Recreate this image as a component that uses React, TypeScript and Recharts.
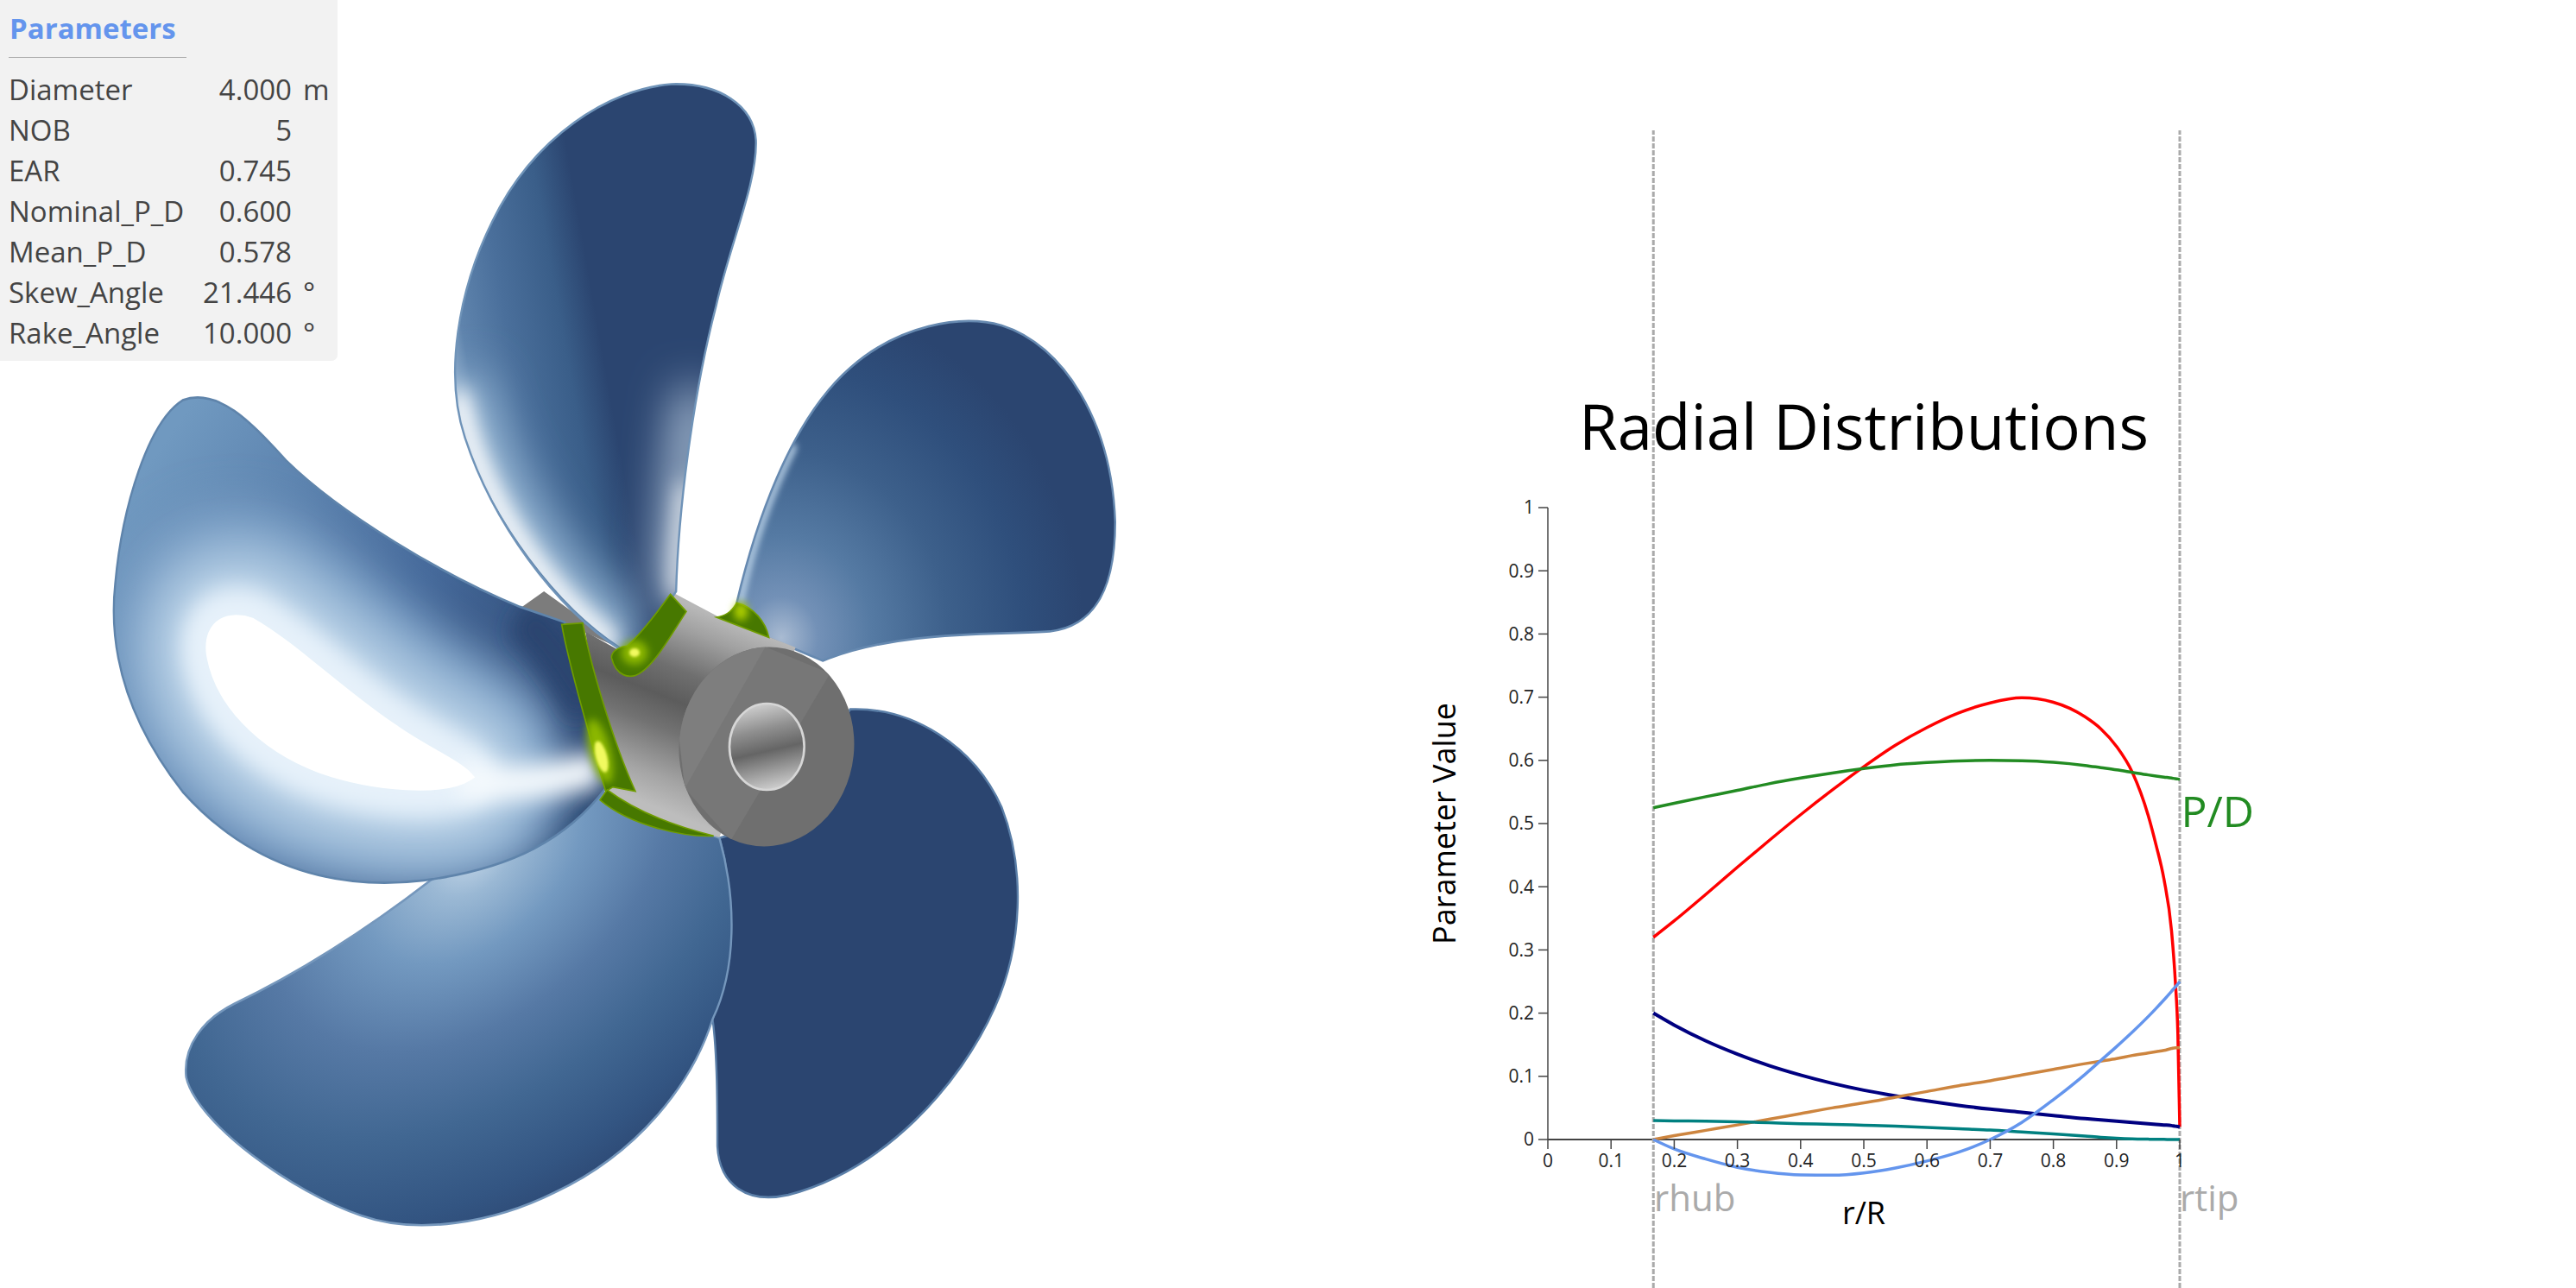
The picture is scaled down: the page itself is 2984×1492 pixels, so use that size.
import React from "react";
import {
  Line,
  LineChart,
  ReferenceDot,
  ReferenceLine,
  XAxis,
  YAxis,
} from "recharts";

// radial stations, r/R
const rR = [
  0.167, 0.2, 0.25, 0.3, 0.35, 0.4, 0.45, 0.5, 0.55, 0.6, 0.65, 0.7, 0.75, 0.8,
  0.85, 0.875, 0.9, 0.925, 0.95, 0.9625, 0.975, 0.987, 0.993, 0.997, 1,
];
const chord = [
  0.32, 0.346, 0.388, 0.431, 0.473, 0.514, 0.553, 0.59, 0.624, 0.652, 0.675,
  0.691, 0.699, 0.692, 0.669, 0.65, 0.622, 0.581, 0.513, 0.466, 0.412, 0.33,
  0.25, 0.167, 0.02,
];
const pitch = [
  0.525, 0.532, 0.5425, 0.5525, 0.563, 0.572, 0.58, 0.587, 0.593, 0.5965, 0.599,
  0.6, 0.5995, 0.597, 0.592, 0.5885, 0.585, 0.581, 0.577, 0.5752, 0.5735, 0.572,
  0.571, 0.5705, 0.57,
];
const thickness = [
  0.2, 0.181, 0.156, 0.135, 0.117, 0.102, 0.089, 0.078, 0.069, 0.061, 0.054,
  0.048, 0.043, 0.038, 0.033, 0.031, 0.029, 0.027, 0.025, 0.024, 0.023, 0.022,
  0.021, 0.0205, 0.02,
];
const rake = [
  0, 0.006, 0.0145, 0.023, 0.032, 0.041, 0.05, 0.058, 0.067, 0.076, 0.085, 0.093,
  0.102, 0.111, 0.12, 0.124, 0.128, 0.133, 0.137, 0.139, 0.141, 0.144, 0.145,
  0.145, 0.146,
];
const camber = [
  0.03, 0.0295, 0.029, 0.028, 0.0265, 0.025, 0.024, 0.0225, 0.021, 0.019, 0.017,
  0.015, 0.012, 0.009, 0.0055, 0.0035, 0.002, 0.001, 0.0005, 0.0003, 0.0002, 0,
  0, 0, 0,
];
const skew = [
  0, -0.015, -0.031, -0.044, -0.052, -0.056, -0.0565, -0.053, -0.045, -0.034,
  -0.02, 0, 0.027, 0.063, 0.103, 0.125, 0.147, 0.17, 0.1945, 0.2075, 0.221,
  0.2345, 0.2415, 0.246, 0.25,
];

const rhub = 0.167;
const rtip = 1;
const xTicks = [0, 0.1, 0.2, 0.3, 0.4, 0.5, 0.6, 0.7, 0.8, 0.9, 1];
const yTicks = [0, 0.1, 0.2, 0.3, 0.4, 0.5, 0.6, 0.7, 0.8, 0.9, 1];

const paramNames = [
  "Diameter",
  "NOB",
  "EAR",
  "Nominal_P_D",
  "Mean_P_D",
  "Skew_Angle",
  "Rake_Angle",
];
const paramValues = ["4.000", "5", "0.745", "0.600", "0.578", "21.446", "10.000"];
const paramUnits = ["m", "", "", "", "", "°", "°"];

const chartData = rR.map((x, i) => ({
  x,
  chord: chord[i],
  pitch: pitch[i],
  thickness: thickness[i],
  rake: rake[i],
  camber: camber[i],
  skew: skew[i],
}));

const FONT = "'Open Sans', sans-serif";
const PLOT_TOP = 151;
const PLOT_BOTTOM = 1492;
const Y_DOMAIN: [number, number] = [-0.235, 1.597];
const ZERO_Y =
  PLOT_TOP +
  (Y_DOMAIN[1] / (Y_DOMAIN[1] - Y_DOMAIN[0])) * (PLOT_BOTTOM - PLOT_TOP);

// x axis sits at y=0, inside the plot, because the plot runs past the axes
const XTick = (props: any) => (
  <g>
    <line
      x1={props.x}
      x2={props.x}
      y1={ZERO_Y}
      y2={ZERO_Y + 11}
      stroke="#444"
      strokeWidth={1.5}
    />
    <text
      x={props.x}
      y={ZERO_Y + 32}
      textAnchor="middle"
      fontSize={21}
      fontFamily={FONT}
      fill="#222"
    >
      {props.payload.value}
    </text>
  </g>
);

const textShape =
  (value: string, size: number, fill: string, anchor = "start", rotate = false) =>
  (p: any) =>
    (
      <text
        x={p.cx}
        y={p.cy}
        fontSize={size}
        fill={fill}
        textAnchor={anchor as any}
        fontFamily={FONT}
        transform={rotate ? `rotate(-90 ${p.cx} ${p.cy})` : undefined}
      >
        {value}
      </text>
    );

const Panel = () => (
  <div
    style={{
      position: "absolute",
      left: 0,
      top: 0,
      width: 391,
      height: 418,
      background: "#f2f2f2",
      borderRadius: "0 0 7px 0",
      fontFamily: FONT,
      color: "#444",
      fontSize: 33,
    }}
  >
    <div
      style={{
        position: "absolute",
        left: 11,
        top: 11,
        lineHeight: "44px",
        fontWeight: 700,
        color: "#6495ed",
      }}
    >
      Parameters
    </div>
    <div
      style={{
        position: "absolute",
        left: 10,
        top: 66,
        width: 206,
        height: 1,
        background: "#aaa",
      }}
    />
    {paramNames.map((name, i) => (
      <div
        key={name}
        style={{
          position: "absolute",
          left: 0,
          top: 80 + i * 47,
          width: 391,
          height: 47,
          lineHeight: "47px",
        }}
      >
        <span style={{ position: "absolute", left: 10 }}>{name}</span>
        <span style={{ position: "absolute", right: 53, textAlign: "right" }}>
          {paramValues[i]}
        </span>
        <span style={{ position: "absolute", left: 351 }}>{paramUnits[i]}</span>
      </div>
    ))}
  </div>
);

const BLADE_T =
  "M857 700 C860 600 880 450 915 330 C935 250 975 170 973 115 C970 70 920 40 850 42 C760 48 650 110 590 220 C540 310 520 420 550 500 C590 610 680 720 775 775 L800 775 Z";
const BLADE_R =
  "M945 715 C970 620 1020 480 1110 410 C1180 355 1270 340 1330 355 C1420 380 1490 480 1495 610 C1495 690 1470 745 1400 752 C1320 757 1180 750 1070 790 L990 760 Z";
const BLADE_LR =
  "M1110 853 C1200 850 1290 900 1330 980 C1365 1060 1360 1160 1320 1240 C1270 1340 1160 1450 1020 1483 C960 1495 920 1470 917 1420 C917 1370 917 1300 910 1255 C935 1190 945 1100 920 1020 L1000 1000 Z";
const BLADE_LL =
  "M920 1020 C945 1100 945 1190 910 1255 C880 1340 800 1430 680 1480 C590 1520 480 1535 400 1510 C300 1480 160 1390 145 1330 C140 1290 170 1255 215 1235 C320 1190 420 1130 500 1075 L750 960 Z";
const BLADE_L =
  "M755 955 C700 1020 620 1060 490 1075 C350 1090 230 1050 140 960 C70 880 30 790 42 690 C52 590 90 480 140 452 C190 435 240 480 290 530 C370 600 520 680 630 720 L695 740 L730 850 Z";
const CORE_L =
  "M180 780 C175 740 210 730 240 740 C300 770 380 840 450 880 C490 905 540 925 555 940 C520 960 420 955 340 930 C250 900 190 840 180 780 Z";

const blur = (id: string, dev: number) => (
  <filter
    id={id}
    filterUnits="userSpaceOnUse"
    x={-300}
    y={-300}
    width={2400}
    height={2400}
  >
    <feGaussianBlur stdDeviation={dev} />
  </filter>
);

// the propeller render is an illustration, not data, so it is plain svg
const Propeller = () => (
  <svg
    width={2984}
    height={1492}
    style={{ position: "absolute", left: 0, top: 0 }}
  >
    <defs>
      {blur("b5", 5)}
      {blur("b14", 14)}
      {blur("b30", 30)}
      <clipPath id="clipT"><path d={BLADE_T} /></clipPath>
      <clipPath id="clipR"><path d={BLADE_R} /></clipPath>
      <clipPath id="clipL"><path d={BLADE_L} /></clipPath>
      <linearGradient id="gradT" gradientUnits="userSpaceOnUse" x1="535" y1="440" x2="790" y2="390">
        <stop offset="0" stopColor="#8aa8c8" />
        <stop offset="0.1" stopColor="#5f84ad" />
        <stop offset="0.35" stopColor="#4a6f9b" />
        <stop offset="0.65" stopColor="#3a5e89" />
        <stop offset="0.85" stopColor="#2b4570" />
      </linearGradient>
      <radialGradient id="gradR" gradientUnits="userSpaceOnUse" cx="1010" cy="760" r="440">
        <stop offset="0" stopColor="#a9bbd2" />
        <stop offset="0.12" stopColor="#7391b7" />
        <stop offset="0.3" stopColor="#557aa3" />
        <stop offset="0.55" stopColor="#3d608b" />
        <stop offset="0.8" stopColor="#2f4f7c" />
        <stop offset="1" stopColor="#2b4570" />
      </radialGradient>
      <radialGradient
        id="gradLL"
        gradientUnits="userSpaceOnUse"
        cx="560"
        cy="1040"
        r="560"
        gradientTransform="rotate(-35 560 1040) translate(560 1040) scale(1.3 0.85) translate(-560 -1040)"
      >
        <stop offset="0" stopColor="#c3d6e8" />
        <stop offset="0.1" stopColor="#9ab8d4" />
        <stop offset="0.25" stopColor="#7399c0" />
        <stop offset="0.45" stopColor="#5679a5" />
        <stop offset="0.65" stopColor="#416792" />
        <stop offset="0.85" stopColor="#335582" />
        <stop offset="1" stopColor="#2b4570" />
      </radialGradient>
      <linearGradient id="gradL" gradientUnits="userSpaceOnUse" x1="150" y1="460" x2="680" y2="880">
        <stop offset="0" stopColor="#7099c0" />
        <stop offset="0.6" stopColor="#45699a" />
        <stop offset="1" stopColor="#2b4570" />
      </linearGradient>
      <linearGradient id="gradHub" gradientUnits="userSpaceOnUse" x1="715" y1="195" x2="455" y2="840">
        <stop offset="0" stopColor="#b8b8b8" />
        <stop offset="0.12" stopColor="#a0a0a0" />
        <stop offset="0.32" stopColor="#6f6f6f" />
        <stop offset="0.47" stopColor="#5c5c5c" />
        <stop offset="0.62" stopColor="#727272" />
        <stop offset="0.85" stopColor="#a4a4a4" />
        <stop offset="1" stopColor="#bdbdbd" />
      </linearGradient>
      <linearGradient id="gradHole" x1="0.4" y1="0" x2="0.6" y2="1">
        <stop offset="0" stopColor="#cfcfcf" />
        <stop offset="0.3" stopColor="#8f8f8f" />
        <stop offset="0.55" stopColor="#656565" />
        <stop offset="0.8" stopColor="#a0a0a0" />
        <stop offset="1" stopColor="#d0d0d0" />
      </linearGradient>
      <clipPath id="clipDisk">
        <ellipse cx="804" cy="615" rx="304" ry="347" transform="rotate(6 804 615)" />
      </clipPath>
    </defs>

    <g transform="translate(100 60) scale(0.7972 0.8929)">
      <path d={BLADE_LR} fill="#2b4570" stroke="#5b7fa8" strokeWidth={3} />

      <path d={BLADE_LL} fill="url(#gradLL)" />
      <path d={BLADE_LL} fill="none" stroke="#7597bc" strokeWidth={3} />

      <path d="M630 722 L665 700 L790 780 L705 745 Z" fill="#7c7c7c" />

      <path d={BLADE_L} fill="url(#gradL)" />
      <g clipPath="url(#clipL)">
        <path d="M480 1100 C620 1085 720 1020 770 950" fill="none" stroke="#1f3c68" strokeWidth={30} filter="url(#b14)" />
        <path d={CORE_L} fill="#7fa3c8" stroke="#7fa3c8" strokeWidth={290} strokeLinejoin="round" filter="url(#b30)" />
        <path d={CORE_L} fill="#b6cfe5" stroke="#b6cfe5" strokeWidth={180} strokeLinejoin="round" filter="url(#b30)" />
        <path d={CORE_L} fill="#e6f1fa" stroke="#e6f1fa" strokeWidth={85} strokeLinejoin="round" filter="url(#b14)" />
        <path d="M540 945 C620 955 680 945 745 930" fill="none" stroke="#f4f9fd" strokeWidth={45} filter="url(#b14)" />
        <path d={CORE_L} fill="#ffffff" stroke="#ffffff" strokeWidth={12} />
        <path d="M630 730 C670 760 710 810 730 850" fill="none" stroke="#2b4570" strokeWidth={60} filter="url(#b14)" />
      </g>
      <path d={BLADE_L} fill="none" stroke="#5f84ab" strokeWidth={3} />

      <path d={BLADE_R} fill="url(#gradR)" />
      <g clipPath="url(#clipR)">
        <path d="M950 715 C965 650 990 580 1030 510" fill="none" stroke="#b8d0e6" strokeWidth={9} filter="url(#b5)" />
      </g>
      <path d={BLADE_R} fill="none" stroke="#6689b0" strokeWidth={3} />
    </g>

    <g transform="translate(620 660) scale(0.3333)">
      <path
        d="M175 215 L300 285 L480 80 L640 165 L905 270 L640 930 L420 875 L250 780 Z"
        fill="url(#gradHub)"
      />
    </g>

    <g transform="translate(100 60) scale(0.7972 0.8929)">
      <path d={BLADE_T} fill="url(#gradT)" />
      <g clipPath="url(#clipT)">
        <path d="M530 430 C560 560 660 700 780 780" fill="none" stroke="#8fb0cf" strokeWidth={110} filter="url(#b30)" />
        <path d="M540 440 C560 560 660 700 770 770" fill="none" stroke="#ffffff" strokeWidth={30} filter="url(#b14)" />
        <path d="M885 440 C870 530 860 620 855 710" fill="none" stroke="#9fb3cb" strokeWidth={60} filter="url(#b30)" />
        <path d="M870 560 C862 620 858 660 855 710" fill="none" stroke="#e3e8ee" strokeWidth={22} filter="url(#b14)" />
        <path d="M545 500 C590 610 680 720 775 775" fill="none" stroke="#5f84ab" strokeWidth={6} />
      </g>
      <path d={BLADE_T} fill="none" stroke="#6f93b8" strokeWidth={3} />
    </g>

    <g transform="translate(620 660) scale(0.3333)">
      <g stroke="#6f9c00" strokeWidth={5}>
        <path
          d="M470 85 L525 145 C470 230 420 320 370 355 C330 385 280 370 265 305 C265 280 300 265 320 265 C370 220 430 140 470 85 Z"
          fill="#477800"
        />
        <path d="M700 115 C680 150 660 160 630 165 L812 235 C800 180 760 130 700 115 Z" fill="#477800" />
        <path d="M92 190 L165 185 C190 320 270 600 348 770 L270 755 L245 770 C210 650 120 350 92 190 Z" fill="#477800" />
        <path d="M225 800 L250 765 C350 840 480 890 620 925 C520 930 330 890 225 800 Z" fill="#477800" />
      </g>
      <ellipse cx="345" cy="288" rx="46" ry="42" fill="#8cb800" filter="url(#b14)" />
      <ellipse cx="345" cy="288" rx="18" ry="15" fill="#f2fa60" filter="url(#b5)" />
      <ellipse cx="715" cy="145" rx="24" ry="32" fill="#b0d000" filter="url(#b14)" />
      <ellipse cx="225" cy="630" rx="36" ry="115" fill="#8cb800" transform="rotate(-15 225 630)" filter="url(#b14)" />
      <ellipse cx="230" cy="650" rx="20" ry="56" fill="#f2fa60" transform="rotate(-15 230 650)" filter="url(#b5)" />

      <ellipse cx="804" cy="615" rx="304" ry="347" fill="#6f6f6f" transform="rotate(6 804 615)" />
      <g clipPath="url(#clipDisk)">
        <path d="M800 268 L1025 360 L680 940 L520 760 L490 500 Z" fill="#777777" />
        <path d="M800 268 L520 760 L480 400 L700 200 Z" fill="#7e7e7e" />
      </g>
      <ellipse cx="805" cy="615" rx="130" ry="150" fill="url(#gradHole)" stroke="#d6d6d6" strokeWidth={8} />
    </g>
  </svg>
);

const App = () => {
  return (
    <div
      style={{
        position: "absolute",
        left: 0,
        top: 0,
        width: 2984,
        height: 1492,
        background: "#fff",
        overflow: "hidden",
      }}
    >
      <Propeller />
      <Panel />
      <div style={{ position: "absolute", left: 0, top: 0 }}>
        {/* 30px taller than the page so the x axis strip falls off the bottom */}
        <LineChart
          width={2984}
          height={PLOT_BOTTOM + 30}
          data={chartData}
          margin={{ top: PLOT_TOP, right: 459, left: 1693, bottom: 0 }}
        >
          <XAxis
            type="number"
            dataKey="x"
            domain={[0, 1]}
            ticks={xTicks}
            interval={0}
            height={30}
            axisLine={false}
            tickLine={false}
            tick={XTick}
          />
          <YAxis
            type="number"
            domain={Y_DOMAIN}
            ticks={yTicks}
            interval={0}
            width={100}
            axisLine={false}
            tickSize={11}
            tickMargin={5}
            tickLine={{ stroke: "#444", strokeWidth: 1.5 }}
            tick={{ fontSize: 21, fontFamily: FONT, fill: "#222" }}
          />
          <ReferenceLine
            segment={[
              { x: 0, y: 0 },
              { x: 0, y: 1 },
            ]}
            stroke="#444"
            strokeWidth={1.5}
          />
          <ReferenceLine
            segment={[
              { x: 0, y: 0 },
              { x: 1, y: 0 },
            ]}
            stroke="#444"
            strokeWidth={2}
          />
          <ReferenceLine x={rhub} stroke="#aaa" strokeWidth={3} strokeDasharray="6 2" />
          <ReferenceLine x={rtip} stroke="#aaa" strokeWidth={3} strokeDasharray="6 2" />
          <Line dataKey="chord" stroke="#ff0000" strokeWidth={3.5} dot={false} type="monotone" isAnimationActive={false} />
          <Line dataKey="pitch" stroke="#228b22" strokeWidth={3.5} dot={false} type="monotone" isAnimationActive={false} />
          <Line dataKey="thickness" stroke="#000080" strokeWidth={4} dot={false} type="monotone" isAnimationActive={false} />
          <Line dataKey="rake" stroke="#cd853f" strokeWidth={3.5} dot={false} type="monotone" isAnimationActive={false} />
          <Line dataKey="camber" stroke="#008080" strokeWidth={3.5} dot={false} type="monotone" isAnimationActive={false} />
          <Line dataKey="skew" stroke="#6495ed" strokeWidth={3.5} dot={false} type="monotone" isAnimationActive={false} />
          <ReferenceDot x={0.5} y={1.0915} r={0} ifOverflow="visible" shape={textShape("Radial Distributions", 72.5, "#000", "middle")} />
          <ReferenceDot x={0.5} y={-0.134} r={0} ifOverflow="visible" shape={textShape("r/R", 36, "#000", "middle")} />
          <ReferenceDot x={-0.146} y={0.5} r={0} ifOverflow="visible" shape={textShape("Parameter Value", 36, "#000", "middle", true)} />
          <ReferenceDot x={rhub + 0.001} y={-0.113} r={0} ifOverflow="visible" shape={textShape("rhub", 42, "#aaa")} />
          <ReferenceDot x={rtip} y={-0.113} r={0} ifOverflow="visible" shape={textShape("rtip", 42, "#aaa")} />
          <ReferenceDot x={rtip + 0.002} y={0.495} r={0} ifOverflow="visible" shape={textShape("P/D", 50, "#228b22")} />
        </LineChart>
      </div>
    </div>
  );
};

export default App;
